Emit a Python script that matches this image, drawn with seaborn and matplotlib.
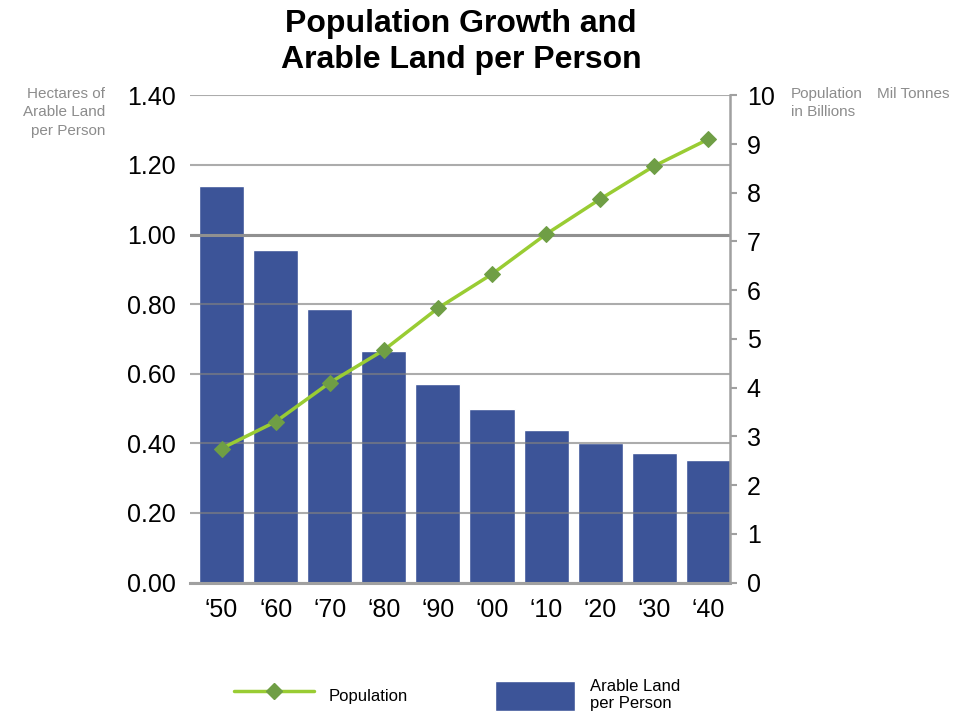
import numpy as np
import pandas as pd
import seaborn as sns
import matplotlib.pyplot as plt
from matplotlib.lines import Line2D
from matplotlib.patches import Patch

decades = ["\u201850", "\u201860", "\u201870", "\u201880", "\u201890",
           "\u201800", "\u201810", "\u201820", "\u201830", "\u201840"]
arable = [1.14, 0.955, 0.786, 0.665, 0.570, 0.499, 0.438, 0.400, 0.372, 0.352]
population = [2.75, 3.30, 4.10, 4.77, 5.63, 6.33, 7.15, 7.87, 8.55, 9.10]

bar_color = "#3c5498"
line_color = "#99cc33"
marker_color = "#6f9e45"
gray = "#a0a0a0"

df = pd.DataFrame({
    "decade": decades,
    "arable": arable,
    "population": population,
    "pos": np.arange(len(decades)),
})

sns.set_style("white")
plt.rcParams["font.family"] = ["Liberation Sans", "DejaVu Sans"]
plt.rcParams["text.color"] = "black"
plt.rcParams["xtick.color"] = "black"
plt.rcParams["ytick.color"] = "black"

fig = plt.figure(figsize=(9.69, 7.21), dpi=100)
ax = fig.add_axes([190 / 969, 1 - 582.5 / 721, 540 / 969, 487.2 / 721])

sns.barplot(data=df, x="decade", y="arable", color=bar_color,
            width=0.833, saturation=1, ax=ax)
ax.set_ylim(0, 1.4)
ax.set_yticks(np.arange(0, 1.41, 0.2))
ax.yaxis.set_major_formatter("{x:.2f}")
ax.set_xlabel("")
ax.set_ylabel("")
ax.tick_params(axis="y", length=0, pad=10, labelsize=18, labelcolor="black")
ax.tick_params(axis="x", length=0, pad=11, labelsize=18, labelcolor="black")
for s in ["left", "top", "right"]:
    ax.spines[s].set_visible(False)
ax.spines["bottom"].set_color(gray)
ax.spines["bottom"].set_linewidth(2.2)
ax.spines["bottom"].set_zorder(3)
ax.grid(axis="y", color="#808080", alpha=0.65, lw=1.5)
ax.grid(axis="x", visible=False)
ax.set_axisbelow(False)
ax.axhline(1.0, color="#909090", lw=2.2, zorder=2.6)

# population on the right axis
ax2 = ax.twinx()
sns.lineplot(data=df, x="pos", y="population", ax=ax2, color=line_color,
             lw=2.5, marker="D", markersize=8,
             markerfacecolor=marker_color, markeredgecolor=marker_color)
ax2.set_ylim(0, 10)
ax2.set_yticks(range(11))
ax2.set_xlabel("")
ax2.set_ylabel("")
ax2.grid(False)
ax2.tick_params(axis="y", length=5, width=1.5, color=gray, pad=7,
                labelsize=18, labelcolor="black")
for s in ["left", "top", "bottom"]:
    ax2.spines[s].set_visible(False)
ax2.spines["right"].set_color(gray)
ax2.spines["right"].set_linewidth(1.8)
ax.set_xlim(-0.583, 9.40)

# titles and axis captions
fig.text(461 / 969, 1 - 42 / 721, "Population Growth and\nArable Land per Person",
         ha="center", va="center", fontsize=23, fontweight="bold", linespacing=1.3)
fig.text(105 / 969, 1 - 87 / 721, "Hectares of\nArable Land\nper Person",
         ha="right", va="top", fontsize=11, color="#8c8c8c", linespacing=1.4)
fig.text(791 / 969, 1 - 87 / 721, "Population\nin Billions",
         ha="left", va="top", fontsize=11, color="#8c8c8c", linespacing=1.4)
fig.text(877 / 969, 1 - 87 / 721, "Mil Tonnes",
         ha="left", va="top", fontsize=11, color="#8c8c8c")

handles = [
    Line2D([0], [0], color=line_color, lw=2.5, marker="D", markersize=8,
           markerfacecolor=marker_color, markeredgecolor=marker_color),
    Patch(facecolor=bar_color),
]
fig.legend(handles, ["Population", "Arable Land\nper Person"], loc="center",
           bbox_to_anchor=(457 / 969, 1 - 695 / 721), ncol=2, frameon=False,
           fontsize=12, handlelength=4.8, handleheight=2.4, handletextpad=0.9,
           columnspacing=5.2, labelcolor="black")

fig.savefig("out.png", dpi=100)
